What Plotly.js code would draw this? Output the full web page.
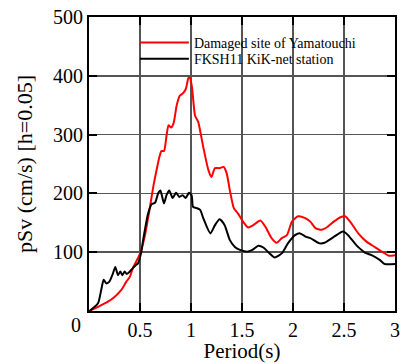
<!DOCTYPE html>
<html>
<head>
<meta charset="utf-8">
<script src="https://cdn.plot.ly/plotly-3.0.1.min.js"></script>
<style>html,body{margin:0;padding:0;background:#fff;}#chart{width:401px;height:363px;}</style>
</head>
<body>
<div id="chart"></div>
<script>
var seriesNames = ["Damaged site of Yamatouchi", "FKSH11 KiK-net station"];
var xTickVals = [0.5, 1, 1.5, 2, 2.5, 3];
var xTickText = ["0.5", "1", "1.5", "2", "2.5", "3"];
var yTickVals = [100, 200, 300, 400, 500];
var yTickText = ["100", "200", "300", "400", "500"];

var redPeriod = [0.005,0.088,0.186,0.25,0.317,0.366,0.40,0.43,0.48,0.51,0.55,0.598,0.63,0.657,0.69,0.71,0.735,0.76,0.78,0.805,0.83,0.86,0.89,0.92,0.95,0.975,0.99,1.01,1.04,1.07,1.12,1.17,1.20,1.235,1.28,1.32,1.35,1.38,1.42,1.46,1.51,1.56,1.61,1.68,1.73,1.79,1.84,1.89,1.94,1.99,2.05,2.12,2.17,2.22,2.28,2.33,2.40,2.46,2.51,2.56,2.64,2.72,2.80,2.89,2.94,3.0];
var redPSv = [0,7,16,24,36,50,58,73,90,102,130,177,211,235,262,272,272,298,316,312,320,350,366,370,378,396,396,380,332,322,279,240,228,243,243,245,234,206,175,166,152,142,146,154,143,124,116,124,129,152,161,158,152,141,138,142,152,159,161,152,132,118,109,99,94,95];

var blackPeriod = [0.005,0.088,0.12,0.144,0.17,0.20,0.235,0.258,0.284,0.307,0.327,0.35,0.37,0.40,0.43,0.457,0.48,0.51,0.53,0.58,0.615,0.647,0.68,0.70,0.735,0.76,0.787,0.82,0.853,0.885,0.918,0.947,0.98,1.006,1.02,1.055,1.09,1.12,1.19,1.235,1.28,1.33,1.38,1.43,1.48,1.56,1.61,1.66,1.71,1.77,1.82,1.89,1.95,2.02,2.07,2.13,2.17,2.26,2.31,2.40,2.49,2.54,2.62,2.71,2.77,2.85,2.90,3.0];
var blackPSv = [0,13,36,53,47,50,64,75,61,67,61,67,63,67,73,78,81,98,120,166,182,184,201,205,183,197,205,192,201,194,197,192,201,197,177,175,172,158,132,146,156,146,121,109,104,101,105,111,108,98,91,98,115,129,132,126,124,115,116,126,135,129,112,99,95,87,80,80];

var serif = "Liberation Serif";

var traces = [
  {x: redPeriod, y: redPSv, name: seriesNames[0], type: 'scatter', mode: 'lines', legend: 'legend',
   line: {color: '#ff0000', width: 2, shape: 'spline', smoothing: 0.6}},
  {x: blackPeriod, y: blackPSv, name: seriesNames[1], type: 'scatter', mode: 'lines', legend: 'legend2',
   line: {color: '#000000', width: 2, shape: 'spline', smoothing: 0.6}}
];

function axisBase() {
  return {
    showline: true, linecolor: '#000', linewidth: 2, mirror: 'ticks',
    ticks: 'inside', ticklen: 8, tickwidth: 2, tickcolor: '#000',
    showgrid: true, gridcolor: '#555', gridwidth: 1.5,
    zeroline: false,
    tickfont: {family: serif, size: 20, color: '#000'}
  };
}

var legendBase = function (yv) {
  return {x: 0.150, y: yv, xanchor: 'left', yanchor: 'middle', bgcolor: 'rgba(0,0,0,0)',
          borderwidth: 0, itemwidth: 49, font: {family: serif, size: 14, color: '#000'}};
};

var xa = axisBase();
xa.range = [0, 3]; xa.tickvals = xTickVals; xa.ticktext = xTickText;
xa.title = {text: 'Period(s)', font: {family: serif, size: 21, color: '#000'}, standoff: 6};
var ya = axisBase();
ya.range = [0, 500]; ya.tickvals = yTickVals; ya.ticktext = yTickText;
ya.title = {text: 'pSv (cm/s) [h=0.05]', font: {family: serif, size: 22, color: '#000'}, standoff: 14};

var layout = {
  width: 401, height: 363,
  font: {family: serif, size: 20, color: '#000'},
  margin: {l: 89, r: 6, t: 17, b: 52},
  paper_bgcolor: '#fff', plot_bgcolor: '#fff',
  showlegend: true,
  legend: legendBase(0.9116),
  legend2: legendBase(0.857),
  xaxis: xa,
  yaxis: ya,
  annotations: [
    {xref: 'paper', yref: 'paper', x: 0, y: 0, xanchor: 'right', yanchor: 'middle',
     xshift: -6, yshift: -14, showarrow: false, text: '0',
     font: {family: serif, size: 20, color: '#000'}}
  ]
};

Plotly.newPlot('chart', traces, layout, {displayModeBar: false, staticPlot: true});
</script>
</body>
</html>
